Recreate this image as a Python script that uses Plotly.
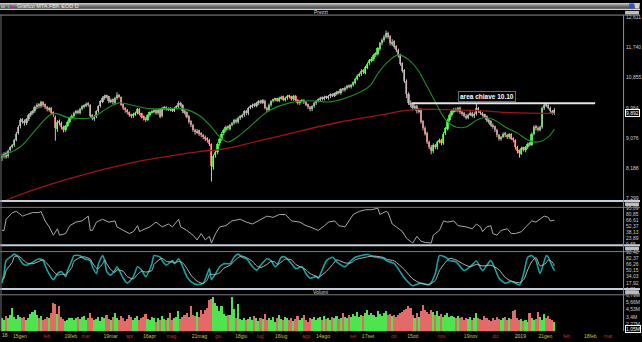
import plotly.graph_objects as go

# ---------------- daily data, bar index 0 = 2 Jan 2018 ----------------
opens = [
    8.48, 8.56, 8.62, 8.53, 8.72, 8.82, 8.86, 9.02, 9.22, 9.41,
    9.62, 9.57, 9.51, 9.63, 9.74, 9.81, 9.86, 9.97, 10.07, 10.01,
    10.13, 10.06, 9.99, 9.90, 9.96, 9.81, 9.70, 9.33, 9.57, 9.52,
    9.40, 9.31, 9.43, 9.54, 9.66, 9.71, 9.81, 9.87, 9.81, 9.93,
    9.99, 10.03, 10.09, 10.04, 9.74, 9.64, 9.71, 9.86, 10.01, 10.14,
    10.24, 10.32, 10.29, 10.14, 10.21, 10.11, 10.24, 10.33, 10.27, 10.06,
    9.96, 9.89, 9.83, 9.76, 9.71, 9.77, 9.81, 9.93, 9.79, 9.71,
    9.66, 9.61, 9.74, 9.83, 9.84, 9.89, 9.79, 9.91, 9.71, 9.94,
    9.99, 9.91, 9.96, 9.91, 9.87, 9.96, 9.99, 10.11, 10.04, 9.86,
    9.83, 9.71, 9.56, 9.46, 9.31, 9.24, 9.29, 9.21, 9.16, 9.11,
    9.06, 9.01, 8.88, 8.22, 8.57, 8.66, 8.91, 9.04, 9.21, 9.29,
    9.41, 9.34, 9.46, 9.51, 9.61, 9.54, 9.66, 9.71, 9.74, 9.86,
    9.79, 9.96, 9.99, 10.06, 10.01, 10.09, 10.16, 10.11, 10.17, 9.96,
    9.89, 10.04, 10.16, 10.19, 10.23, 10.17, 10.24, 10.29, 10.19, 10.24,
    10.31, 10.29, 10.21, 10.31, 10.19, 10.09, 10.16, 10.19, 10.13, 10.06,
    9.99, 9.91, 10.01, 10.09, 10.16, 10.19, 10.26, 10.21, 10.29, 10.24,
    10.29, 10.36, 10.31, 10.37, 10.43, 10.39, 10.51, 10.47, 10.54, 10.61,
    10.57, 10.63, 10.69, 10.81, 10.91, 10.94, 11.06, 10.99, 11.14, 11.26,
    11.36, 11.39, 11.51, 11.54, 11.69, 11.86, 11.94, 12.04, 12.16, 12.06,
    11.84, 11.91, 11.76, 11.66, 11.51, 11.26, 11.06, 10.74, 10.36, 10.11,
    10.06, 9.94, 10.01, 9.84, 9.91, 9.56, 9.36, 9.21, 8.96, 8.81,
    8.69, 8.86, 8.79, 8.96, 9.01, 8.91, 9.21, 9.34, 9.61, 9.74,
    9.86, 9.91, 9.87, 9.96, 9.83, 9.79, 9.73, 9.67, 9.76, 9.81,
    9.71, 9.77, 9.96, 9.86, 9.81, 9.76, 9.71, 9.61, 9.56, 9.46,
    9.41, 9.31, 9.16, 9.04, 9.11, 9.21, 9.16, 9.09, 9.19, 9.06,
    9.01, 8.81, 8.71, 8.61, 8.79, 8.71, 8.79, 8.91, 8.87, 9.19,
    9.41, 9.36, 9.31, 9.39, 9.94, 10.06, 10.03, 9.96, 9.86, 9.79,
]
highs = [
    8.62, 8.66, 8.68, 8.74, 8.84, 8.90, 9.05, 9.26, 9.45, 9.66,
    9.66, 9.62, 9.66, 9.79, 9.86, 9.90, 10.03, 10.10, 10.10, 10.17,
    10.16, 10.09, 10.02, 9.99, 9.99, 9.86, 9.74, 9.60, 9.62, 9.56,
    9.44, 9.46, 9.59, 9.69, 9.77, 9.85, 9.90, 9.91, 9.96, 10.04,
    10.07, 10.12, 10.13, 10.07, 9.78, 9.75, 9.89, 10.04, 10.19, 10.30,
    10.35, 10.35, 10.31, 10.24, 10.24, 10.29, 10.42, 10.37, 10.30, 10.09,
    9.99, 9.93, 9.86, 9.79, 9.82, 9.85, 9.96, 9.95, 9.82, 9.74,
    9.69, 9.78, 9.86, 9.89, 9.92, 9.92, 9.94, 9.94, 9.99, 10.02,
    10.01, 9.98, 9.98, 9.94, 9.99, 10.04, 10.16, 10.14, 10.07, 9.90,
    9.86, 9.75, 9.60, 9.49, 9.35, 9.34, 9.32, 9.25, 9.20, 9.15,
    9.10, 9.05, 8.92, 8.60, 8.72, 8.94, 9.09, 9.25, 9.35, 9.44,
    9.45, 9.49, 9.55, 9.64, 9.65, 9.70, 9.75, 9.79, 9.89, 9.90,
    9.99, 10.05, 10.09, 10.10, 10.14, 10.19, 10.20, 10.22, 10.20, 10.00,
    10.09, 10.19, 10.23, 10.26, 10.26, 10.29, 10.32, 10.32, 10.29, 10.34,
    10.35, 10.32, 10.34, 10.34, 10.22, 10.19, 10.22, 10.22, 10.16, 10.09,
    10.02, 10.04, 10.14, 10.19, 10.24, 10.29, 10.30, 10.32, 10.32, 10.34,
    10.39, 10.39, 10.41, 10.46, 10.46, 10.54, 10.54, 10.59, 10.64, 10.65,
    10.67, 10.74, 10.85, 10.95, 11.00, 11.10, 11.10, 11.20, 11.30, 11.40,
    11.46, 11.55, 11.60, 11.75, 11.90, 12.00, 12.10, 12.23, 12.20, 12.10,
    11.98, 11.95, 11.80, 11.70, 11.55, 11.30, 11.10, 10.80, 10.42, 10.18,
    10.10, 10.06, 10.05, 9.96, 9.95, 9.60, 9.42, 9.26, 9.00, 8.87,
    8.92, 8.90, 9.00, 9.06, 9.05, 9.25, 9.40, 9.65, 9.80, 9.90,
    9.96, 9.97, 9.99, 10.00, 9.88, 9.84, 9.78, 9.79, 9.86, 9.85,
    9.83, 10.08, 9.99, 9.90, 9.84, 9.79, 9.74, 9.65, 9.60, 9.50,
    9.44, 9.35, 9.20, 9.14, 9.24, 9.26, 9.20, 9.22, 9.22, 9.10,
    9.04, 8.85, 8.74, 8.82, 8.82, 8.84, 8.94, 8.96, 9.24, 9.45,
    9.46, 9.42, 9.44, 10.00, 10.12, 10.10, 10.07, 10.00, 9.90, 9.95,
]
lows = [
    8.40, 8.48, 8.47, 8.49, 8.68, 8.77, 8.82, 8.98, 9.18, 9.36,
    9.50, 9.44, 9.46, 9.58, 9.70, 9.76, 9.82, 9.92, 9.95, 9.96,
    9.99, 9.93, 9.86, 9.85, 9.76, 9.70, 9.00, 9.26, 9.45, 9.33,
    9.24, 9.26, 9.39, 9.50, 9.62, 9.66, 9.77, 9.78, 9.77, 9.89,
    9.95, 9.99, 10.00, 9.68, 9.60, 9.58, 9.66, 9.82, 9.97, 10.10,
    10.20, 10.24, 10.10, 10.10, 10.07, 10.08, 10.20, 10.24, 10.02, 9.90,
    9.82, 9.77, 9.70, 9.66, 9.67, 9.73, 9.77, 9.74, 9.65, 9.59,
    9.55, 9.58, 9.70, 9.79, 9.80, 9.76, 9.76, 9.66, 9.68, 9.90,
    9.88, 9.87, 9.86, 9.84, 9.84, 9.92, 9.96, 10.00, 9.81, 9.77,
    9.65, 9.50, 9.40, 9.26, 9.18, 9.20, 9.14, 9.10, 9.04, 8.99,
    8.94, 8.84, 7.80, 8.15, 8.50, 8.60, 8.85, 8.99, 9.15, 9.25,
    9.30, 9.30, 9.42, 9.47, 9.50, 9.50, 9.61, 9.66, 9.70, 9.75,
    9.75, 9.92, 9.95, 9.98, 9.98, 10.05, 10.08, 10.07, 9.92, 9.84,
    9.86, 10.00, 10.12, 10.15, 10.14, 10.13, 10.20, 10.16, 10.15, 10.20,
    10.24, 10.18, 10.17, 10.16, 10.06, 10.05, 10.12, 10.08, 10.01, 9.93,
    9.86, 9.87, 9.97, 10.05, 10.12, 10.15, 10.18, 10.18, 10.22, 10.20,
    10.25, 10.28, 10.28, 10.33, 10.36, 10.35, 10.44, 10.44, 10.50, 10.54,
    10.53, 10.59, 10.65, 10.77, 10.87, 10.90, 10.96, 10.95, 11.10, 11.22,
    11.30, 11.34, 11.46, 11.50, 11.64, 11.80, 11.90, 12.00, 12.00, 11.80,
    11.78, 11.70, 11.60, 11.44, 11.20, 11.00, 10.70, 10.25, 10.05, 9.98,
    9.88, 9.90, 9.80, 9.80, 9.50, 9.30, 9.15, 8.90, 8.75, 8.60,
    8.64, 8.75, 8.74, 8.92, 8.86, 8.88, 9.16, 9.30, 9.56, 9.70,
    9.80, 9.84, 9.83, 9.78, 9.73, 9.68, 9.62, 9.63, 9.72, 9.68,
    9.66, 9.74, 9.82, 9.76, 9.71, 9.66, 9.56, 9.50, 9.42, 9.35,
    9.25, 9.10, 9.00, 9.00, 9.08, 9.10, 9.05, 9.05, 9.02, 8.95,
    8.74, 8.62, 8.50, 8.58, 8.68, 8.66, 8.75, 8.83, 8.84, 9.15,
    9.30, 9.27, 9.27, 9.35, 9.90, 9.98, 9.92, 9.82, 9.76, 9.76,
]
closes = [
    8.55, 8.60, 8.52, 8.70, 8.80, 8.85, 9.00, 9.20, 9.40, 9.60,
    9.55, 9.50, 9.62, 9.75, 9.80, 9.85, 9.98, 10.05, 10.00, 10.12,
    10.05, 9.98, 9.92, 9.95, 9.80, 9.78, 9.35, 9.55, 9.50, 9.38,
    9.30, 9.42, 9.55, 9.65, 9.72, 9.80, 9.85, 9.82, 9.92, 10.00,
    10.02, 10.08, 10.05, 9.72, 9.65, 9.70, 9.85, 10.00, 10.15, 10.25,
    10.30, 10.28, 10.15, 10.20, 10.12, 10.25, 10.32, 10.28, 10.05, 9.95,
    9.88, 9.82, 9.75, 9.72, 9.78, 9.80, 9.92, 9.78, 9.70, 9.65,
    9.62, 9.75, 9.82, 9.85, 9.88, 9.80, 9.90, 9.70, 9.95, 9.98,
    9.92, 9.95, 9.90, 9.88, 9.95, 10.00, 10.10, 10.05, 9.85, 9.82,
    9.70, 9.55, 9.45, 9.30, 9.25, 9.28, 9.20, 9.15, 9.10, 9.05,
    9.00, 8.90, 8.25, 8.55, 8.65, 8.90, 9.05, 9.20, 9.30, 9.40,
    9.35, 9.45, 9.50, 9.60, 9.55, 9.65, 9.70, 9.75, 9.85, 9.80,
    9.95, 10.00, 10.05, 10.02, 10.10, 10.15, 10.12, 10.18, 9.95, 9.90,
    10.05, 10.15, 10.20, 10.22, 10.18, 10.25, 10.28, 10.20, 10.25, 10.30,
    10.28, 10.22, 10.30, 10.20, 10.10, 10.15, 10.18, 10.12, 10.05, 9.98,
    9.92, 10.00, 10.10, 10.15, 10.20, 10.25, 10.22, 10.28, 10.25, 10.30,
    10.35, 10.32, 10.38, 10.42, 10.40, 10.50, 10.48, 10.55, 10.60, 10.58,
    10.62, 10.70, 10.80, 10.90, 10.95, 11.05, 11.00, 11.15, 11.25, 11.35,
    11.40, 11.50, 11.55, 11.70, 11.85, 11.95, 12.05, 12.15, 12.05, 11.85,
    11.90, 11.75, 11.65, 11.50, 11.25, 11.05, 10.75, 10.35, 10.10, 10.05,
    9.95, 10.00, 9.85, 9.90, 9.55, 9.35, 9.20, 8.95, 8.80, 8.70,
    8.85, 8.80, 8.95, 9.00, 8.92, 9.20, 9.35, 9.60, 9.75, 9.85,
    9.90, 9.88, 9.95, 9.82, 9.78, 9.72, 9.68, 9.75, 9.80, 9.72,
    9.78, 9.95, 9.85, 9.80, 9.75, 9.70, 9.60, 9.55, 9.45, 9.40,
    9.30, 9.15, 9.05, 9.10, 9.20, 9.15, 9.10, 9.18, 9.05, 9.00,
    8.80, 8.70, 8.62, 8.78, 8.72, 8.80, 8.90, 8.88, 9.20, 9.40,
    9.35, 9.32, 9.40, 9.95, 10.05, 10.02, 9.95, 9.85, 9.80, 9.892,
]
volumes_m = [
    3.2, 2.9, 3.5, 3.1, 3.6, 4.8, 3.4, 3.0, 3.7, 3.3,
    3.1, 3.4, 2.9, 3.2, 3.8, 4.1, 4.5, 3.6, 3.2, 3.5,
    2.8, 3.0, 3.3, 3.2, 3.9, 5.6, 5.3, 3.8, 5.1, 3.4,
    3.0, 2.7, 2.9, 3.2, 3.1, 2.8, 3.2, 3.4, 3.0, 3.3,
    3.5, 2.9, 3.2, 4.0, 3.1, 2.8, 3.0, 3.4, 2.7, 3.3,
    3.1, 3.6, 3.0, 2.8, 3.4, 3.9, 3.2, 2.9, 3.5, 3.1,
    2.7, 3.0, 3.7, 3.3, 2.9, 3.1, 3.5, 2.8, 3.2, 3.4,
    3.8, 3.0, 2.8, 3.3, 3.1, 2.6, 3.2, 2.9, 3.5, 3.0,
    2.8, 3.1, 4.0, 2.9, 3.2, 3.4, 4.2, 3.0, 3.3, 3.6,
    3.9, 3.4, 5.1, 3.7, 3.5, 4.1, 3.3, 4.4, 3.8, 4.5,
    4.7, 6.0, 6.2, 6.4, 5.6, 5.1, 4.2, 5.0, 3.8, 3.5,
    3.7, 3.6, 6.4, 4.6, 3.1, 5.4, 3.0, 2.8, 3.2, 2.9,
    3.0, 3.3, 2.9, 3.5, 3.1, 2.7, 3.2, 3.0, 3.8, 2.8,
    3.1, 2.9, 3.4, 2.6, 3.2, 3.6, 3.0, 2.8, 3.3, 3.1,
    2.9, 3.2, 2.7, 3.0, 3.5, 2.8, 3.1, 3.7, 2.9, 2.6,
    3.2, 3.0, 3.4, 2.8, 3.1, 3.3, 2.9, 3.5, 3.0, 3.2,
    2.9, 3.3, 3.1, 3.5, 3.0, 3.2, 3.9, 3.4, 3.1, 3.6,
    3.3, 3.8, 3.5, 4.1, 3.4, 3.7, 3.5, 3.9, 4.4, 3.6,
    4.0, 3.7, 3.4, 4.2, 3.8, 3.5, 3.9, 4.3, 3.6, 3.8,
    3.5, 3.7, 3.4, 3.6, 3.9, 4.1, 4.4, 4.6, 5.0, 4.8,
    3.6, 3.2, 4.0, 3.4, 4.2, 5.2, 4.5, 4.1, 3.8, 4.4,
    4.1, 3.7, 4.2, 3.5, 3.8, 3.4, 3.6, 4.0, 3.3, 3.5,
    3.4, 3.2, 3.5, 3.1, 3.3, 2.9, 3.2, 3.0, 3.4, 2.8,
    3.1, 3.9, 3.2, 3.0, 2.8, 3.5, 3.1, 2.9, 2.7, 3.2,
    2.9, 3.3, 3.0, 2.8, 3.1, 3.4, 2.9, 3.2, 3.0, 4.2,
    4.5, 3.1, 2.8, 3.0, 2.7, 2.9, 2.6, 3.9, 3.2, 2.8,
    3.0, 4.1, 3.4, 2.9, 3.8, 3.1, 3.5, 3.0, 2.8, 2.6,
]

# short (green) and long (dark red) moving averages: bar index -> price
ma_short_idx = [0, 2, 9, 15, 23, 26, 32, 39, 44, 51,
                57, 64, 72, 80, 88, 96, 102, 106, 110, 116,
                120, 125, 130, 140, 150, 160, 170, 179, 183, 188,
                193, 198, 203, 206, 210, 216, 221, 226, 231, 235,
                240, 245, 251, 256, 261, 266, 269]
ma_short_val = [8.50, 8.59, 8.82, 9.22, 9.74, 9.80, 9.68, 9.65, 9.68, 9.94,
                10.11, 10.03, 9.94, 9.94, 9.94, 9.74, 9.40, 9.11, 8.96, 9.17,
                9.37, 9.65, 9.88, 10.11, 10.17, 10.14, 10.31, 10.60, 10.97, 11.32,
                11.52, 11.38, 11.03, 10.70, 10.25, 9.62, 9.40, 9.40, 9.60, 9.68,
                9.60, 9.40, 9.22, 9.02, 8.96, 9.11, 9.34]
ma_long_idx = [0, 4, 32, 64, 80, 96, 106, 125, 145, 164, 183, 200, 216, 232, 248, 269]
ma_long_val = [7.18, 7.30, 7.87, 8.36, 8.53, 8.68, 8.735, 8.99, 9.28, 9.54,
               9.74, 9.91, 9.91, 9.88, 9.82, 9.80]

# oscillator panel 1 (RSI)
rsi_idx = [0, 1, 2, 5, 7, 10, 12, 15, 18, 19,
           21, 23, 25, 27, 28, 31, 33, 36, 39, 42,
           43, 44, 46, 49, 52, 55, 56, 59, 62, 64,
           66, 67, 68, 72, 75, 78, 81, 83, 85, 86,
           87, 90, 93, 95, 97, 99, 101, 102, 104, 106,
           109, 112, 116, 119, 122, 125, 129, 132, 135, 138,
           141, 145, 148, 150, 152, 154, 157, 159, 162, 164,
           167, 169, 171, 174, 177, 180, 183, 184, 187, 188,
           190, 192, 195, 197, 200, 202, 204, 206, 209, 210,
           213, 215, 217, 220, 222, 226, 229, 231, 233, 234,
           236, 238, 239, 241, 243, 246, 248, 250, 253, 255,
           258, 260, 262, 264, 266, 267, 269]
rsi_val = [42.8, 42.8, 68.6, 84.1, 86.9, 75.9, 79.6, 84.1, 84.1, 86.9,
           64.8, 50.9, 31.7, 46.5, 31.7, 35.5, 53.8, 62.0, 64.8, 75.9,
           42.8, 42.8, 62.0, 68.6, 62.0, 64.8, 50.9, 42.8, 35.5, 39.9,
           53.8, 39.9, 42.8, 50.9, 62.0, 50.9, 57.6, 50.9, 62.0, 68.6,
           50.9, 42.8, 31.7, 20.7, 35.5, 20.7, 28.9, 13.4, 35.5, 50.9,
           53.8, 64.8, 68.6, 62.0, 57.6, 64.8, 75.9, 73.0, 79.6, 79.6,
           64.8, 62.0, 53.8, 50.9, 46.5, 42.8, 53.8, 62.0, 64.8, 53.8,
           50.9, 64.8, 79.6, 86.9, 90.7, 90.7, 94.4, 79.6, 86.9, 84.1,
           57.6, 50.9, 39.9, 24.4, 13.4, 28.9, 17.8, 14.9, 13.4, 31.7,
           42.8, 64.8, 62.0, 64.8, 53.8, 50.9, 46.5, 57.6, 50.9, 39.9,
           50.9, 53.8, 35.5, 31.7, 42.8, 46.5, 35.5, 35.5, 39.9, 50.9,
           64.8, 62.0, 68.6, 75.9, 73.0, 64.8, 66.4]

# oscillator panel 2 (stochastic %K and %D)
stoch_idx = [0, 1, 2, 5, 6, 8, 10, 12, 15, 18,
             20, 22, 25, 27, 29, 31, 32, 34, 35, 38,
             40, 43, 44, 46, 47, 49, 50, 51, 53, 55,
             56, 59, 61, 64, 66, 68, 70, 73, 74, 77,
             78, 80, 83, 84, 86, 88, 90, 92, 95, 98,
             100, 101, 102, 104, 106, 108, 111, 113, 115, 117,
             119, 122, 124, 126, 129, 131, 133, 134, 136, 138,
             141, 143, 146, 148, 150, 153, 154, 158, 161, 163,
             167, 170, 172, 178, 181, 186, 187, 191, 196, 200,
             204, 208, 211, 213, 216, 218, 221, 225, 228, 231,
             234, 238, 242, 245, 248, 252, 254, 256, 258, 260,
             262, 265, 266, 268, 269]
stoch_k = [17, 42, 76, 89, 93, 85, 68, 64, 72, 81,
           76, 51, 26, 42, 47, 34, 51, 76, 89, 89,
           81, 76, 60, 42, 68, 89, 76, 47, 38, 51,
           60, 30, 17, 34, 60, 51, 34, 68, 89, 85,
           76, 64, 76, 68, 81, 60, 34, 21, 13, 17,
           42, 55, 26, 42, 60, 68, 68, 85, 93, 85,
           81, 60, 51, 64, 81, 76, 60, 64, 85, 85,
           68, 55, 60, 42, 30, 34, 30, 76, 85, 73,
           60, 76, 85, 92, 86, 81, 76, 68, 30, 10,
           17, 12, 42, 89, 85, 76, 73, 50, 60, 75,
           50, 76, 30, 17, 22, 12, 42, 85, 89, 76,
           42, 89, 85, 60, 50]
stoch_d = [25, 30, 50, 72, 86, 88, 80, 70, 68, 74,
           78, 68, 48, 38, 40, 40, 44, 58, 74, 84,
           86, 80, 70, 56, 56, 68, 78, 68, 52, 45,
           52, 48, 34, 28, 40, 48, 46, 50, 66, 80,
           82, 74, 72, 70, 74, 70, 56, 38, 22, 16,
           26, 40, 40, 40, 44, 56, 64, 74, 84, 88,
           84, 74, 62, 58, 66, 74, 72, 66, 72, 80,
           78, 66, 58, 52, 42, 35, 32, 48, 66, 78,
           70, 70, 78, 86, 88, 84, 80, 75, 52, 28,
           16, 14, 24, 50, 72, 82, 78, 66, 60, 66,
           62, 64, 52, 32, 22, 18, 26, 52, 74, 84,
           62, 70, 78, 72, 62]

# horizontal key level drawn on the price panel
KEY_LEVEL = 10.10
key_from, key_to = 199.5, 288.8
key_label = "area chiave 10.10"

# axis ticks
price_ticks = [7.299, 8.188, 9.076, 9.964, 10.855, 11.740, 12.611]
price_tick_text = ["7,299", "8,188", "9,076", "9,964", "10,855", "11,740", "12,611"]
rsi_ticks = [9.65, 23.89, 38.13, 52.37, 66.61, 80.85, 95.09]
stoch_ticks = [1.81, 17.92, 34.03, 50.15, 66.26, 82.37, 98.48]
vol_ticks = [2.27, 3.40, 4.53, 5.66, 6.79]
vol_tick_text = ["2,27M", "3,4M", "4,53M", "5,66M", "6,79M"]
last_volume_text = "1,05M"
first_year_label = "18"
date_ticks = [8.7, 21.8, 33.5, 40.8, 52.9, 62.1, 71.8, 82.5, 96.1,
              105.3, 116.5, 125.7, 135.9, 148.1, 156.3, 170.9, 178.2, 190.8, 200.0,
              214.0, 228.2, 240.3, 252.4, 264.6, 274.8, 286.4, 295.1]
date_labels = ["15gen", "feb", "19feb", "mar", "19mar", "apr", "16apr", "mag", "21mag",
               "giu", "18giu", "lug", "16lug", "ago", "14ago", "set", "17set", "ott", "15ott",
               "nov", "19nov", "dic", "2019", "21gen", "feb", "18feb", "mar"]

n = len(closes)
assert len(opens) == len(highs) == len(lows) == n == len(volumes_m)
assert len(ma_short_idx) == len(ma_short_val) and len(ma_long_idx) == len(ma_long_val)
assert len(rsi_idx) == len(rsi_val)
assert len(stoch_idx) == len(stoch_k) == len(stoch_d)
assert len(date_ticks) == len(date_labels)

# ---------------- geometry ----------------
W, H = 642, 342
X_RIGHT = 625 / W


def py(px):
    """pixel row -> paper y"""
    return 1 - px / H


def pxx(px):
    return px / W


X_RANGE = [-0.97, 302.4]
UP, DOWN = "#33d633", "#e05a5a"
VUP, VDOWN = "#4ee44e", "#e46a6a"
YEAR_COL, MONTH_COL, DAY_COL = "#c8c8a0", "#d02828", "#d4c020"

idx = list(range(n))
up = [c >= o for o, c in zip(opens, closes)]

# candle wicks
wx, wy = [], []
for i in idx:
    wx += [i, i, None]
    wy += [lows[i], highs[i], None]

fig = go.Figure()
fig.add_trace(go.Scatter(x=wx, y=wy, mode="lines", line=dict(color="#c4c4c4", width=1),
                         hoverinfo="skip", xaxis="x", yaxis="y"))
fig.add_trace(go.Bar(x=idx, base=[min(o, c) for o, c in zip(opens, closes)],
                     y=[max(abs(c - o), 0.012) for o, c in zip(opens, closes)],
                     width=0.85, marker=dict(color=[UP if u else DOWN for u in up], line=dict(width=0)),
                     xaxis="x", yaxis="y"))
fig.add_trace(go.Scatter(x=ma_long_idx, y=ma_long_val, mode="lines", line=dict(color="#9c1414", width=1.3, shape="spline"),
                         xaxis="x", yaxis="y"))
fig.add_trace(go.Scatter(x=ma_short_idx, y=ma_short_val, mode="lines", line=dict(color="#1f8f1f", width=1.1, shape="spline"),
                         xaxis="x", yaxis="y"))
fig.add_trace(go.Scatter(x=[key_from, key_to], y=[KEY_LEVEL, KEY_LEVEL], mode="lines",
                         line=dict(color="#e6e6e6", width=2), xaxis="x", yaxis="y"))

# RSI
fig.add_trace(go.Scatter(x=rsi_idx, y=rsi_val, mode="lines", line=dict(color="#a8a8a8", width=1),
                         xaxis="x2", yaxis="y2"))
# stochastic
fig.add_trace(go.Scatter(x=stoch_idx, y=stoch_k, mode="lines", line=dict(color="#1aa3a3", width=1.6, shape="spline", smoothing=0.6),
                         xaxis="x3", yaxis="y3"))
fig.add_trace(go.Scatter(x=stoch_idx, y=stoch_d, mode="lines", line=dict(color="#b8b8b8", width=1, shape="spline", smoothing=0.6),
                         xaxis="x3", yaxis="y3"))
# volume
fig.add_trace(go.Bar(x=idx, y=volumes_m, width=0.8,
                     marker=dict(color=[VUP if u else VDOWN for u in up], line=dict(width=0)),
                     xaxis="x4", yaxis="y4"))

AXF = dict(family="Liberation Sans, Arial, sans-serif", size=5, color="#cfcfcf")


def xax(anchor, show=False):
    d = dict(range=X_RANGE, domain=[0, X_RIGHT], anchor=anchor, showgrid=False, zeroline=False,
             showline=False, ticks="", showticklabels=show, fixedrange=True)
    return d


def yax(anchor, dom, rng, tv, tt=None):
    d = dict(domain=dom, range=rng, anchor=anchor, side="right", showgrid=False, zeroline=False,
             showline=False, ticks="", tickvals=tv, tickfont=AXF, fixedrange=True, ticklabelstandoff=2)
    if tt is not None:
        d["ticktext"] = tt
    else:
        d["ticktext"] = [f"{v:.2f}".replace(".", ",") for v in tv]
    return d


def date_label(t):
    if t.isalpha():
        return f"<span style='color:{MONTH_COL}'>{t}</span>"
    if t.isdigit():
        return f"<span style='color:{YEAR_COL}'>{t}</span>"
    return f"<span style='color:{DAY_COL}'>{t}</span>"


x4 = xax("y4", True)
x4.update(tickvals=date_ticks, ticktext=[date_label(t) for t in date_labels],
          tickfont=dict(family="Liberation Sans, Arial, sans-serif", size=5), ticklabelstandoff=1)

shapes = []


def hline(y, color, width, x0=0, x1=W):
    shapes.append(dict(type="line", xref="paper", yref="paper", x0=pxx(x0), x1=pxx(x1),
                       y0=py(y), y1=py(y), line=dict(color=color, width=width), layer="above"))


def rect(x0, y0, x1, y1, color):
    shapes.append(dict(type="rect", xref="paper", yref="paper", x0=pxx(x0), x1=pxx(x1),
                       y0=py(y1), y1=py(y0), fillcolor=color, line=dict(width=0), layer="above"))


# window title bar
for k, c in enumerate(["#c4c4c4", "#a4a4a4", "#868686", "#6c6c6c", "#5a5a5a", "#626262"]):
    rect(0, k, W, k + 1, c)
hline(6.6, "#d8d8d8", 1)
rect(1, 1, 5, 5, "#9a9a9a")
rect(631, 0.5, 636, 5.5, "#2f4fe0")
rect(637, 0.5, 641, 5.5, "#d0d0d0")
# panel headers
hline(12.3, "#8a8a8a", 1)
for top, bottom in [(201.6, 208), (246.7, 253), (291, 297)]:
    hline(top, "#c6cedb", 2)
    hline(bottom, "#7a7a7a", 1)
for y0 in [8, 203, 248, 292.5]:
    rect(627, y0, 641, y0 + 3.6, "#bdbdbd")
# frame
shapes.append(dict(type="line", xref="paper", yref="paper", x0=pxx(1), x1=pxx(1), y0=py(334), y1=py(12.3),
                   line=dict(color="#6e6e6e", width=1), layer="above"))
shapes.append(dict(type="line", xref="paper", yref="paper", x0=pxx(625.5), x1=pxx(625.5), y0=py(334), y1=py(12.3),
                   line=dict(color="#8c8c8c", width=1), layer="above"))

TXT = "Liberation Sans, Arial, sans-serif"
annotations = [
    dict(xref="paper", yref="paper", x=pxx(15), y=py(3.3), text="Grafico MTA.FBK EOD D", showarrow=False,
         xanchor="left", yanchor="middle", font=dict(family=TXT, size=5.5, color="#f0f0f0")),
    dict(xref="paper", yref="paper", x=pxx(8.5), y=py(3.3), text="●", showarrow=False,
         xanchor="center", yanchor="middle", font=dict(family=TXT, size=5, color="#22dd22")),
    dict(xref="paper", yref="paper", x=pxx(12.5), y=py(3.3), text="▶", showarrow=False,
         xanchor="center", yanchor="middle", font=dict(family=TXT, size=5, color="#d020d0")),
    dict(xref="paper", yref="paper", x=pxx(322), y=py(9.6), text="Prezzi", showarrow=False,
         xanchor="center", yanchor="middle", font=dict(family=TXT, size=5, color="#d8d8d8")),
    dict(xref="paper", yref="paper", x=pxx(322), y=py(294), text="Volumi", showarrow=False,
         xanchor="center", yanchor="middle", font=dict(family=TXT, size=5, color="#d8d8d8")),
    dict(xref="x", yref="y", x=236, y=10.31, text=f"<b>{key_label}</b>", showarrow=False,
         xanchor="center", yanchor="middle", bgcolor="#000000", bordercolor="#6a6a6a", borderwidth=1, borderpad=1,
         font=dict(family=TXT, size=6.5, color="#ffffff")),
    dict(xref="paper", yref="y", x=pxx(626.5), y=closes[-1], yshift=-2.5, text=f"{closes[-1]:.3f}".replace(".", ","),
         showarrow=False, xanchor="left", yanchor="middle", bgcolor="#000000", bordercolor="#ffffff",
         borderwidth=1, borderpad=0, font=dict(family=TXT, size=5, color="#ffffff")),
    dict(xref="paper", yref="paper", x=pxx(626.5), y=py(331.5), text=last_volume_text,
         showarrow=False, xanchor="left", yanchor="middle", bgcolor="#000000", bordercolor="#ffffff",
         borderwidth=1, borderpad=0, font=dict(family=TXT, size=5, color="#ffffff")),
    # year marker at the left edge of the time axis
    dict(xref="paper", yref="paper", x=pxx(0.5), y=py(337.5), text=first_year_label, showarrow=False,
         xanchor="left", yanchor="middle", font=dict(family=TXT, size=5, color=YEAR_COL)),
]

fig.update_layout(
    width=W, height=H, margin=dict(l=0, r=0, t=0, b=0),
    paper_bgcolor="#000000", plot_bgcolor="#000000", showlegend=False, bargap=0,
    xaxis=xax("y"), xaxis2=xax("y2"), xaxis3=xax("y3"), xaxis4=x4,
    yaxis=yax("x", [py(200.5), py(12.5)], [7.256, 12.683], price_ticks, price_tick_text),
    yaxis2=yax("x2", [py(246), py(208.5)], [9.65, 95.09], rsi_ticks),
    yaxis3=yax("x3", [py(291), py(253.5)], [1.81, 98.48], stoch_ticks),
    yaxis4=yax("x4", [py(334), py(297.5)], [1.14, 6.79], vol_ticks, vol_tick_text),
    shapes=shapes, annotations=annotations,
)

fig.write_html("out.html")
